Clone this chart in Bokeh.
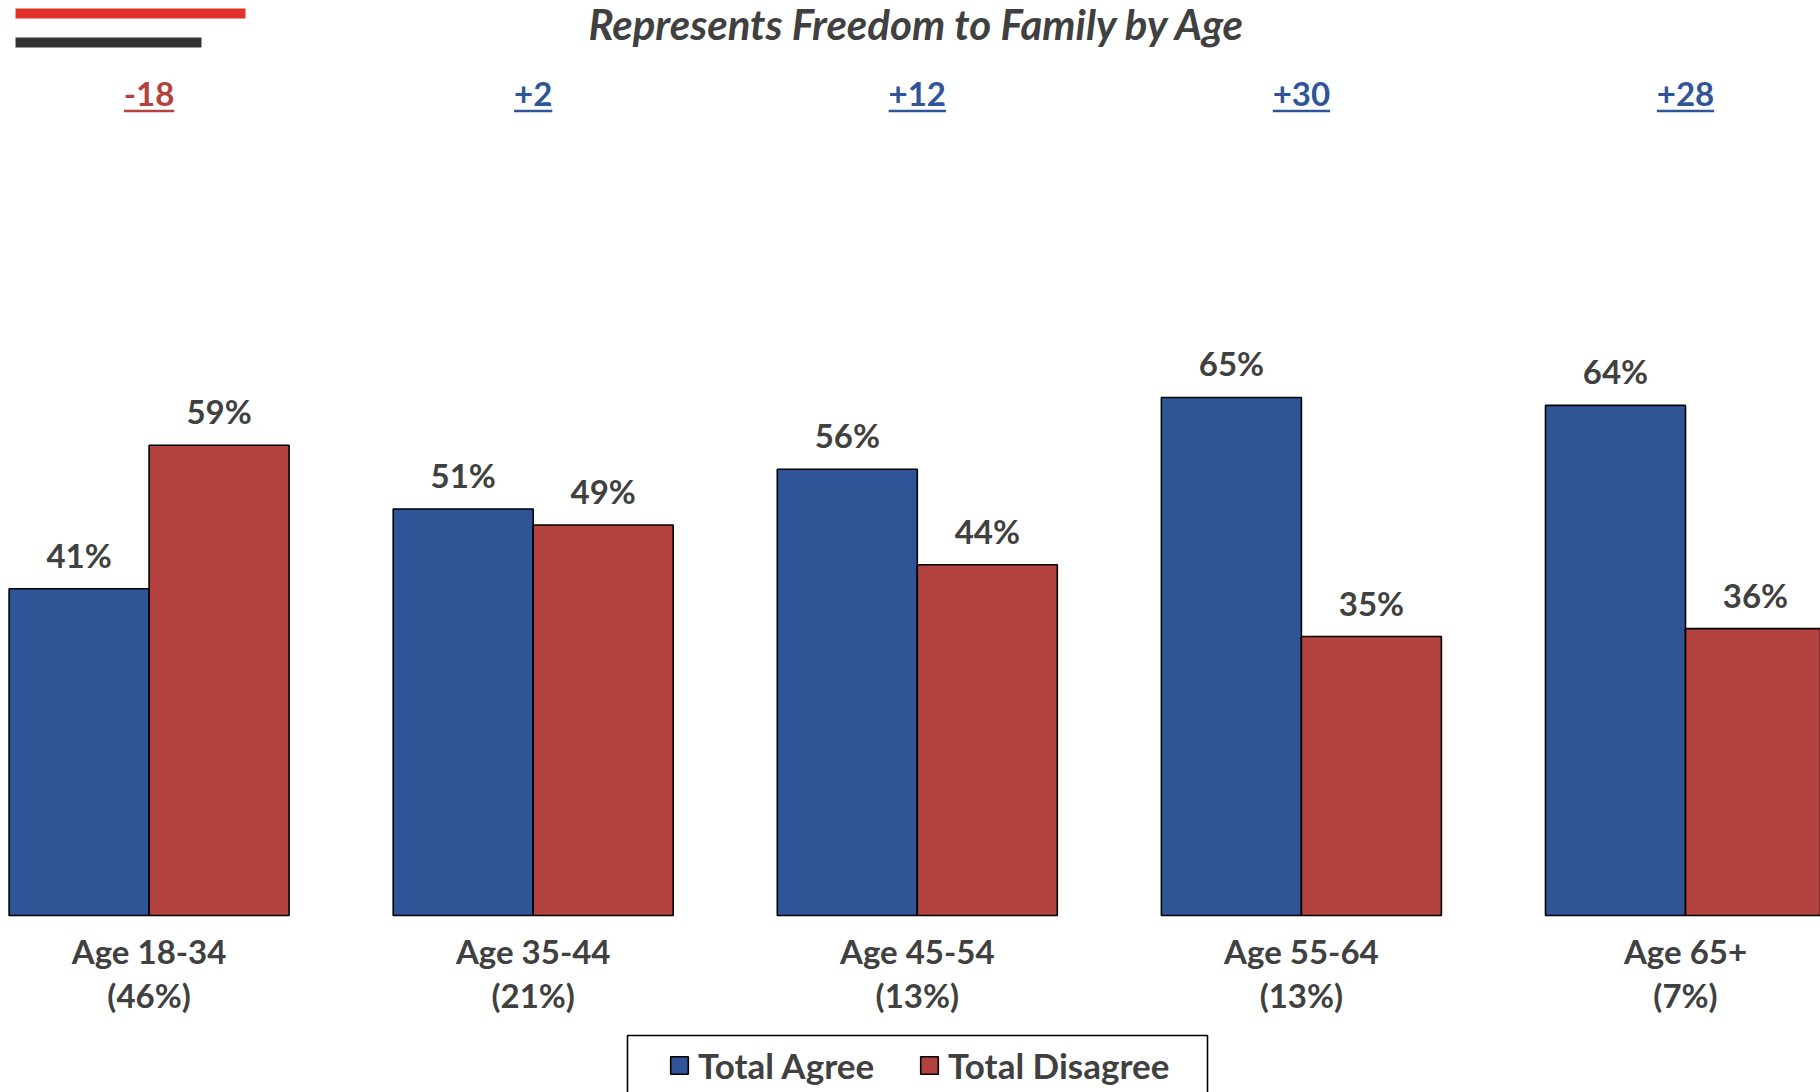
from bokeh.plotting import figure
from bokeh.models import (ColumnDataSource, Legend, LegendItem, Label, BoxAnnotation)
from bokeh.core.properties import value
from bokeh.embed import file_html
from bokeh.resources import INLINE

# ---------------- data ----------------
groups = ["Age 18-34", "Age 35-44", "Age 45-54", "Age 55-64", "Age 65+"]
shares = ["46%", "21%", "13%", "13%", "7%"]
agree = [41, 51, 56, 65, 64]
disagree = [59, 49, 44, 35, 36]
series_names = ["Total Agree", "Total Disagree"]
title_text = "Represents Freedom to Family by Age"

# ---------------- style ----------------
BLUE = "#2F5597"
RED = "#B3423F"
TEXT = "#404040"
FONT = "Lato"
FW, FH = 1820, 1092   # frame size (whole picture)
PX_X = 384.1          # px per group
PX_Y = 7.97           # px per percentage point
BASE = 915            # baseline (px from top)
G0 = 148.6            # centre of first group (px from left)
BW = 140 / PX_X       # bar width (data units)


def ypx(py):
    """top pixel -> data y"""
    return (BASE - py) / PX_Y


def xpx(px):
    return (px - G0) / PX_X


x_idx = list(range(len(groups)))
xa = [i - BW / 2 for i in x_idx]
xd = [i + BW / 2 for i in x_idx]

p = figure(frame_width=FW, frame_height=FH, output_backend="svg", toolbar_location=None,
           x_range=(xpx(0), xpx(FW)), y_range=(ypx(FH), ypx(0)),
           x_axis_location=None, y_axis_location=None,
           min_border_left=0, min_border_right=0, min_border_top=0, min_border_bottom=0)
p.outline_line_color = None
p.grid.visible = False
p.background_fill_color = "white"
p.border_fill_color = "white"

src_a = ColumnDataSource(dict(x=xa, top=agree, lab=[f"{v}%" for v in agree]))
src_d = ColumnDataSource(dict(x=xd, top=disagree, lab=[f"{v}%" for v in disagree]))

ra = p.vbar(x="x", top="top", bottom=0, width=BW, source=src_a,
            fill_color=BLUE, line_color="black", line_width=1.6)
rd = p.vbar(x="x", top="top", bottom=0, width=BW, source=src_d,
            fill_color=RED, line_color="black", line_width=1.6)

for src in (src_a, src_d):
    p.text(x="x", y="top", text="lab", source=src, text_align="center",
           text_baseline="middle", y_offset=-34, text_font=value(FONT),
           text_font_style="bold", text_font_size="33px", text_color=TEXT)

# category labels under the baseline
src_cat = ColumnDataSource(dict(x=x_idx, y=[0] * len(x_idx),
                                lab=[f"{g}\n({s})" for g, s in zip(groups, shares)]))
p.text(x="x", y="y", text="lab", source=src_cat, text_align="center",
       text_baseline="top", y_offset=15, text_font=value(FONT),
       text_font_style="bold", text_font_size="33px", text_line_height=1.1,
       text_color=TEXT)

# difference labels (agree - disagree), underlined
diffs = [a - d for a, d in zip(agree, disagree)]
diff_lab = [f"{d:+d}" for d in diffs]
diff_col = [BLUE if d >= 0 else RED for d in diffs]
cw = {"+": 19.1, "-": 12.2}
uw = [sum(cw.get(c, 19.1) for c in s) / PX_X for s in diff_lab]
src_diff = ColumnDataSource(dict(x=x_idx, y=[ypx(93)] * len(x_idx), lab=diff_lab,
                                 col=diff_col,
                                 x0=[i - w / 2 for i, w in zip(x_idx, uw)],
                                 x1=[i + w / 2 for i, w in zip(x_idx, uw)],
                                 uy=[ypx(110.5)] * len(x_idx)))
p.text(x="x", y="y", text="lab", source=src_diff, text_align="center",
       text_baseline="middle", text_font=value(FONT), text_font_style="bold",
       text_font_size="33px", text_color="col")
p.segment(x0="x0", x1="x1", y0="uy", y1="uy", source=src_diff,
          line_color="col", line_width=2.5)

# title
p.add_layout(Label(x=2, y=ypx(23), text=title_text, text_align="center",
                   text_baseline="middle", text_font=FONT,
                   text_font_style="bold italic", text_font_size="42px",
                   text_color=TEXT))

# decorative bars at the top-left
p.add_layout(BoxAnnotation(left=xpx(15), right=xpx(245),
                           top=ypx(8), bottom=ypx(18),
                           fill_color="#E0322B", fill_alpha=1, line_color=None))
p.add_layout(BoxAnnotation(left=xpx(15), right=xpx(201),
                           top=ypx(37), bottom=ypx(47),
                           fill_color="#333333", fill_alpha=1, line_color=None))

legend = Legend(items=[LegendItem(label=series_names[0], renderers=[ra]),
                       LegendItem(label=series_names[1], renderers=[rd])],
                orientation="horizontal", location=(668, 6),
                label_text_font=FONT, label_text_font_style="bold",
                label_text_font_size="35px", label_text_color=TEXT,
                glyph_width=22, glyph_height=22, label_standoff=8, spacing=44,
                padding=0, margin=0, border_line_color=None,
                background_fill_color="white", background_fill_alpha=1)
p.add_layout(legend, "center")

# legend frame (wider than the legend's own padding allows)
p.add_layout(BoxAnnotation(left=xpx(627), right=xpx(1207),
                           top=ypx(1035), bottom=ypx(1100),
                           fill_alpha=0, line_color="black", line_width=1.6,
                           line_alpha=1))

open("out.html", "w").write(file_html(p, INLINE))
